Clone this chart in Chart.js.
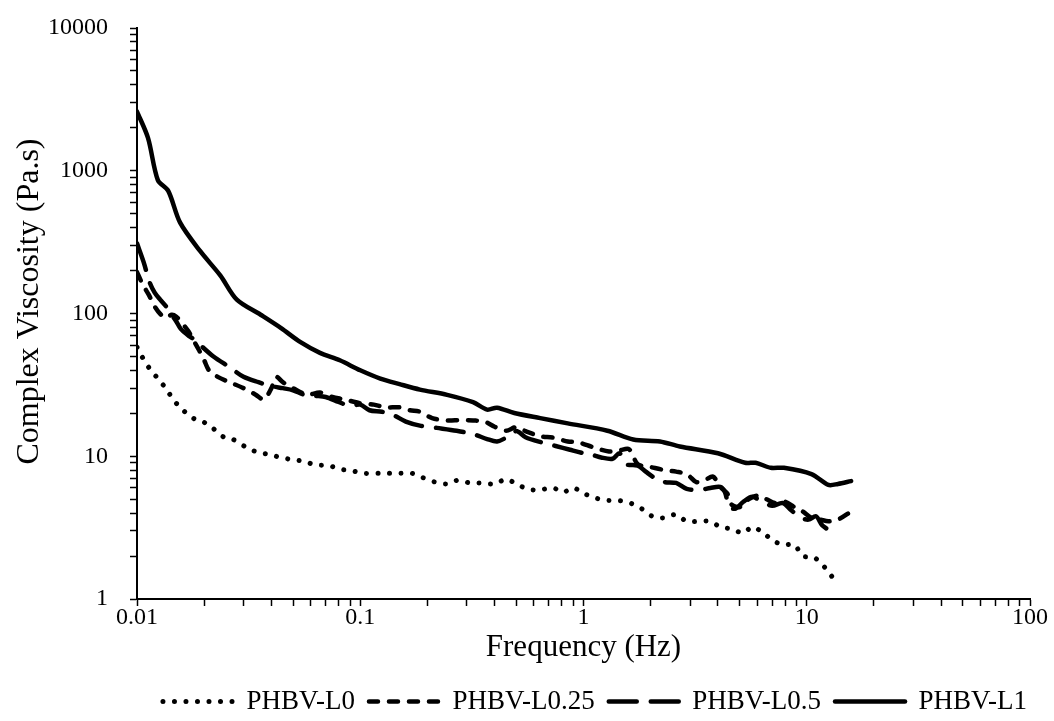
<!DOCTYPE html>
<html>
<head>
<meta charset="utf-8">
<script src="https://cdn.jsdelivr.net/npm/chart.js@4.4.1/dist/chart.umd.min.js"></script>
<style>
    html, body { margin: 0; padding: 0; background: #fff; }
    #wrap { width: 1054px; height: 721px; }
</style>
</head>
<body>
<div id="wrap"><canvas id="viscosity-chart" width="1054" height="721"></canvas></div>
<script>
// Frequency (Hz) / complex viscosity (Pa.s)
const freqL0 = [0.01, 0.0106, 0.0114, 0.0124, 0.0136, 0.0145, 0.016, 0.0178, 0.0197, 0.022, 0.0245, 0.027, 0.031, 0.0345, 0.039, 0.044, 0.049, 0.056, 0.063, 0.072, 0.082, 0.092, 0.104, 0.12, 0.133, 0.15, 0.17, 0.19, 0.216, 0.245, 0.275, 0.31, 0.35, 0.4, 0.45, 0.5, 0.56, 0.63, 0.73, 0.81, 0.9, 1.0, 1.13, 1.28, 1.43, 1.62, 1.82, 2.03, 2.27, 2.6, 2.9, 3.3, 3.7, 4.1, 4.6, 5.2, 5.7, 6.4, 7.1, 7.9, 8.8, 9.6, 10.8, 11.7, 12.7, 13.7];
const viscL0 = [58, 49, 41, 35, 29.3, 25, 21.2, 18.5, 17.5, 15.6, 13.6, 13.1, 11.5, 10.7, 10.3, 9.8, 9.5, 9.2, 8.7, 8.6, 8.1, 7.9, 7.6, 7.6, 7.6, 7.6, 7.6, 7.1, 6.6, 6.4, 6.8, 6.5, 6.5, 6.4, 6.9, 6.4, 5.9, 5.8, 6.0, 5.6, 6.0, 5.5, 5.1, 4.9, 4.9, 4.7, 4.3, 3.8, 3.7, 3.9, 3.5, 3.5, 3.5, 3.2, 3.1, 2.9, 3.2, 2.9, 2.55, 2.4, 2.4, 2.0, 1.95, 1.75, 1.5, 1.27];

const freqL025 = [0.01, 0.0106, 0.0113, 0.012, 0.0128, 0.0135, 0.0143, 0.015, 0.016, 0.017, 0.018, 0.019, 0.02, 0.021, 0.023, 0.026, 0.03, 0.034, 0.037, 0.04, 0.042, 0.045, 0.05, 0.058, 0.066, 0.075, 0.085, 0.1, 0.115, 0.13, 0.15, 0.167, 0.185, 0.21, 0.245, 0.28, 0.32, 0.36, 0.4, 0.45, 0.5, 0.55, 0.64, 0.73, 0.85, 0.95, 1.1, 1.3, 1.45, 1.6, 1.75, 2.0, 2.3, 2.6, 2.9, 3.2, 3.5, 3.8, 4.1, 4.4, 4.6, 5.0, 5.5, 6.0, 6.6, 7.2, 8.0, 8.8, 9.6, 10.5, 11.5, 12.5, 13.8, 15.8];
const viscL025 = [195, 160, 135, 112, 98, 93, 98, 95, 85, 75, 64, 55, 47, 40, 36, 33, 30, 27, 25, 30, 36, 33, 30, 27, 28, 26, 25, 23.5, 23, 22, 22, 21, 20.5, 18.5, 17.8, 17.9, 17.8, 17.5, 16.1, 15.1, 16.0, 15.0, 13.8, 13.5, 12.7, 12.5, 11.6, 10.8, 11.0, 11.2, 8.8, 8.4, 8.0, 7.8, 7.5, 6.6, 6.8, 7.2, 6.1, 5.5, 4.6, 4.4, 5.0, 5.3, 5.0, 4.7, 4.8, 4.4, 4.1, 3.7, 3.6, 3.5, 3.6, 4.1];

const freqL05 = [0.01, 0.0107, 0.0114, 0.012, 0.0127, 0.0135, 0.0143, 0.015, 0.0157, 0.017, 0.0185, 0.0197, 0.022, 0.026, 0.03, 0.035, 0.04, 0.045, 0.05, 0.056, 0.063, 0.07, 0.08, 0.09, 0.1, 0.11, 0.125, 0.14, 0.16, 0.185, 0.22, 0.27, 0.32, 0.37, 0.41, 0.45, 0.5, 0.55, 0.65, 0.75, 0.87, 1.0, 1.1, 1.2, 1.35, 1.45, 1.55, 1.75, 1.9, 2.1, 2.3, 2.6, 2.9, 3.3, 3.7, 4.1, 4.3, 4.5, 4.8, 5.2, 5.7, 6.3, 7.0, 7.8, 8.5, 9.4, 10.2, 11.0, 11.7, 12.3];
const viscL05 = [310, 230, 165, 140, 125, 112, 98, 88, 78, 70, 64, 58, 50, 42, 36, 33, 31, 30, 29, 27, 26.5, 26, 24, 22.5, 23, 21, 20.5, 19.5, 17.5, 16.4, 15.8, 15.1, 14.3, 13.2, 12.7, 13.5, 15.0, 13.6, 12.5, 11.8, 11.1, 10.5, 10.2, 9.8, 9.6, 10.5, 8.8, 8.6, 7.8, 7.0, 6.6, 6.5, 5.9, 5.8, 6.0, 6.1, 5.6, 4.4, 4.3, 4.8, 5.2, 4.8, 4.5, 4.7, 4.2, 3.7, 3.6, 3.8, 3.3, 3.1];

const freqL1 = [0.01, 0.0112, 0.0124, 0.0138, 0.0156, 0.0192, 0.0236, 0.028, 0.0358, 0.0442, 0.054, 0.066, 0.081, 0.1, 0.123, 0.15, 0.185, 0.245, 0.32, 0.37, 0.41, 0.49, 0.64, 0.85, 1.28, 1.67, 2.2, 2.7, 4.0, 5.3, 5.9, 6.9, 7.9, 10.5, 12.5, 13.8, 15.8];
const viscL1 = [2600, 1700, 860, 723, 433, 273, 185, 125, 98, 79, 63, 53, 47, 40, 35, 32, 29.3, 26.9, 23.9, 21.2, 21.9, 20.1, 18.5, 17, 15.1, 13.1, 12.7, 11.7, 10.5, 9.0, 9.0, 8.3, 8.3, 7.5, 6.3, 6.4, 6.7];

const seriesLabels = ['PHBV-L0', 'PHBV-L0.25', 'PHBV-L0.5', 'PHBV-L1'];

// axis decades; minor ticks at 2..9 inside each decade
const xDecades = [0.01, 0.1, 1, 10, 100];
const yDecades = [1, 10, 100, 1000, 10000];
const minorSteps = [1, 2, 3, 4, 5, 6, 7, 8, 9];

const FONT = "'Liberation Serif', 'Times New Roman', serif";

function toPoints(xs, ys) {
    return xs.map((x, i) => ({ x: x, y: ys[i] }));
}

function decadeTicks(decades) {
    const out = [];
    decades.forEach((d, i) => {
        if (i === decades.length - 1) {
            out.push(d);
            return;
        }
        minorSteps.forEach(s => out.push(parseFloat((d * s).toPrecision(6))));
    });
    return out;
}

function isDecade(v) {
    const l = Math.log10(v);
    return Math.abs(l - Math.round(l)) < 1e-9;
}

// push the legend row to where the reference has it
const legendNudge = {
    id: 'legendNudge',
    afterLayout(chart) {
        const lg = chart.legend;
        if (!lg) { return; }
        const dx = 80, dy = 4;
        lg.left += dx; lg.right += dx;
        lg.top += dy; lg.bottom += dy;
    }
};

const baseLine = {
    borderColor: '#000',
    backgroundColor: '#000',
    borderWidth: 4.5,
    pointRadius: 0,
    fill: false,
    tension: 0.3,
    borderJoinStyle: 'round',
    borderCapStyle: 'round',
};

const datasets = [
    Object.assign({}, baseLine, {
        label: seriesLabels[0],
        data: toPoints(freqL0, viscL0),
        borderWidth: 5,
        borderDash: [0.01, 11.5],
    }),
    Object.assign({}, baseLine, {
        label: seriesLabels[1],
        data: toPoints(freqL025, viscL025),
        borderDash: [9, 11],
    }),
    Object.assign({}, baseLine, {
        label: seriesLabels[2],
        data: toPoints(freqL05, viscL05),
        borderDash: [28, 14],
    }),
    Object.assign({}, baseLine, {
        label: seriesLabels[3],
        data: toPoints(freqL1, viscL1),
        borderDash: [],
    }),
];

const ctx = document.getElementById('viscosity-chart').getContext('2d');

new Chart(ctx, {
    type: 'line',
    data: { datasets: datasets },
    plugins: [legendNudge],
    options: {
        responsive: false,
        animation: false,
        events: [],
        layout: { padding: { top: 28, right: 24, left: 0, bottom: 0 } },
        plugins: {
            tooltip: { enabled: false },
            legend: {
                position: 'bottom',
                labels: {
                    color: '#000',
                    font: { family: FONT, size: 27 },
                    usePointStyle: true,
                    pointStyle: 'line',
                    pointStyleWidth: 70,
                    padding: 14,
                    generateLabels: function(chart) {
                        return chart.data.datasets.map((ds, i) => ({
                            text: ds.label,
                            fillStyle: '#000',
                            strokeStyle: '#000',
                            fontColor: '#000',
                            lineWidth: ds.borderWidth,
                            lineDash: ds.borderDash,
                            lineCap: ds.borderCapStyle,
                            pointStyle: 'line',
                            hidden: false,
                            datasetIndex: i
                        }));
                    }
                }
            }
        },
        scales: {
            x: {
                type: 'logarithmic',
                min: 0.01,
                max: 100,
                afterBuildTicks: (scale) => {
                    scale.ticks = decadeTicks(xDecades).map(v => ({ value: v, major: isDecade(v) }));
                },
                afterFit: (scale) => {
                    scale.height = 71;
                    scale.paddingLeft = 0;
                    scale.paddingRight = 0;
                },
                ticks: {
                    autoSkip: false,
                    maxRotation: 0,
                    padding: -3,
                    color: '#000',
                    font: { family: FONT, size: 24 },
                    callback: (v) => isDecade(v) ? String(v) : ''
                },
                grid: {
                    drawOnChartArea: false,
                    drawTicks: true,
                    tickLength: 7,
                    tickColor: '#000',
                    tickWidth: 1.5
                },
                border: { color: '#000', width: 2 },
                title: {
                    display: true,
                    text: 'Frequency (Hz)',
                    color: '#000',
                    font: { family: FONT, size: 31 },
                    padding: { top: 0, bottom: 4 }
                }
            },
            y: {
                type: 'logarithmic',
                min: 1,
                max: 10000,
                afterBuildTicks: (scale) => {
                    scale.ticks = decadeTicks(yDecades).map(v => ({ value: v, major: isDecade(v) }));
                },
                afterFit: (scale) => {
                    scale.width = 137;
                    scale.paddingTop = 0;
                    scale.paddingBottom = 0;
                },
                ticks: {
                    autoSkip: false,
                    padding: 22,
                    color: '#000',
                    font: { family: FONT, size: 24 },
                    callback: (v) => isDecade(v) ? String(v) : ''
                },
                grid: {
                    drawOnChartArea: false,
                    drawTicks: true,
                    tickLength: 7,
                    tickColor: '#000',
                    tickWidth: 1.5
                },
                border: { color: '#000', width: 2 },
                title: {
                    display: true,
                    text: '   Complex Viscosity (Pa.s)',
                    color: '#000',
                    font: { family: FONT, size: 32 },
                    padding: { top: 10, bottom: 0 }
                }
            }
        }
    }
});
</script>
</body>
</html>
